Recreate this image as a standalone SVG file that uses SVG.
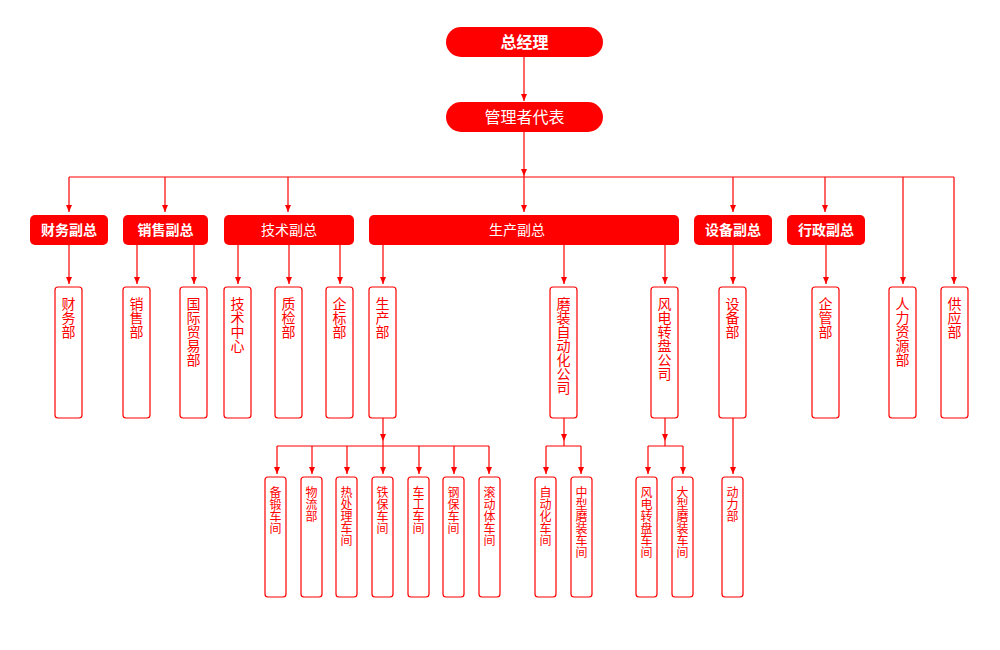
<svg xmlns="http://www.w3.org/2000/svg" width="1000" height="650" viewBox="0 0 1000 650">
<style>
.t{font-family:"Noto Sans CJK SC","Noto Sans",sans-serif;}
.top{fill:#FF0000;}
.vp{fill:#FF0000;}
.box{fill:#fff;stroke:#FF0000;stroke-width:1.2;}
.wt{fill:#fff;text-anchor:middle;}
.vt{fill:#FF0000;writing-mode:vertical-rl;text-orientation:upright;text-anchor:start;}
.l3{font-size:14px;}
.l4{font-size:12px;}
.b{font-weight:bold;}
#connectors path{fill:none;stroke:#FF0000;stroke-width:1.2;}
</style>
<defs>
<marker id="ar" markerUnits="userSpaceOnUse" markerWidth="8" markerHeight="6" refX="7" refY="3" orient="auto">
<path d="M0,0 L7,3 L0,6 Z" fill="#FF0000"/>
</marker>
</defs>
<rect width="1000" height="650" fill="#fff"/>
<g id="connectors">
<path d="M524,57 V101" marker-end="url(#ar)"/>
<path d="M524,132 V176" marker-end="url(#ar)"/>
<path d="M524,176 V212" marker-end="url(#ar)"/>
<path d="M69,177 H954"/>
<path d="M69,177 V212" marker-end="url(#ar)"/>
<path d="M165,177 V212" marker-end="url(#ar)"/>
<path d="M288,177 V212" marker-end="url(#ar)"/>
<path d="M733,177 V212" marker-end="url(#ar)"/>
<path d="M825,177 V212" marker-end="url(#ar)"/>
<path d="M903,177 V284" marker-end="url(#ar)"/>
<path d="M954,177 V284" marker-end="url(#ar)"/>
<path d="M69,245 V284" marker-end="url(#ar)"/>
<path d="M137,245 V284" marker-end="url(#ar)"/>
<path d="M194,245 V284" marker-end="url(#ar)"/>
<path d="M238,245 V284" marker-end="url(#ar)"/>
<path d="M289,245 V284" marker-end="url(#ar)"/>
<path d="M340,245 V284" marker-end="url(#ar)"/>
<path d="M383,245 V284" marker-end="url(#ar)"/>
<path d="M564,245 V284" marker-end="url(#ar)"/>
<path d="M665,245 V284" marker-end="url(#ar)"/>
<path d="M733,245 V284" marker-end="url(#ar)"/>
<path d="M826,245 V284" marker-end="url(#ar)"/>
<path d="M383,418 V441" marker-end="url(#ar)"/>
<path d="M277,446 H489"/>
<path d="M383,441 V446"/>
<path d="M277,446 V474" marker-end="url(#ar)"/>
<path d="M312,446 V474" marker-end="url(#ar)"/>
<path d="M347,446 V474" marker-end="url(#ar)"/>
<path d="M383,446 V474" marker-end="url(#ar)"/>
<path d="M419,446 V474" marker-end="url(#ar)"/>
<path d="M454,446 V474" marker-end="url(#ar)"/>
<path d="M489,446 V474" marker-end="url(#ar)"/>
<path d="M564,418 V441" marker-end="url(#ar)"/>
<path d="M564,441 V446"/>
<path d="M546,446 H581"/>
<path d="M546,446 V474" marker-end="url(#ar)"/>
<path d="M581,446 V474" marker-end="url(#ar)"/>
<path d="M665,418 V441" marker-end="url(#ar)"/>
<path d="M665,441 V446"/>
<path d="M648,446 H683"/>
<path d="M648,446 V474" marker-end="url(#ar)"/>
<path d="M683,446 V474" marker-end="url(#ar)"/>
<path d="M733,418 V474" marker-end="url(#ar)"/>
</g>
<g id="n-gm"><rect class="top" x="446" y="27" width="157" height="30" rx="15"/><text class="t wt b" x="524.5" y="48" font-size="16">总经理</text></g>
<g id="n-mr"><rect class="top" x="446" y="102" width="157" height="30" rx="15"/><text class="t wt" x="524.5" y="123" font-size="16">管理者代表</text></g>
<g id="n-cw"><rect class="vp" x="30" y="215" width="78" height="30" rx="5"/><text class="t wt b" x="69" y="235" font-size="14">财务副总</text></g>
<g id="n-xs"><rect class="vp" x="123" y="215" width="85" height="30" rx="5"/><text class="t wt b" x="165.5" y="235" font-size="14">销售副总</text></g>
<g id="n-js"><rect class="vp" x="224" y="215" width="130" height="30" rx="5"/><text class="t wt" x="289" y="235" font-size="14">技术副总</text></g>
<g id="n-sc"><rect class="vp" x="369" y="215" width="310" height="30" rx="5"/><text class="t wt" x="517" y="235" font-size="14">生产副总</text></g>
<g id="n-sb"><rect class="vp" x="694" y="215" width="78" height="30" rx="5"/><text class="t wt b" x="733" y="235" font-size="14">设备副总</text></g>
<g id="n-xz"><rect class="vp" x="787" y="215" width="78" height="30" rx="5"/><text class="t wt b" x="826" y="235" font-size="14">行政副总</text></g>

<g id="n-cwb"><rect class="box" x="55" y="287" width="27" height="131" rx="3"/><text class="t vt l3" x="68.5" y="297">财务部</text></g>
<g id="n-xsb"><rect class="box" x="123" y="287" width="27" height="131" rx="3"/><text class="t vt l3" x="136.5" y="297">销售部</text></g>
<g id="n-gj"><rect class="box" x="180" y="287" width="27" height="131" rx="3"/><text class="t vt l3" x="193.5" y="297">国际贸易部</text></g>
<g id="n-jszx"><rect class="box" x="224" y="287" width="27" height="131" rx="3"/><text class="t vt l3" x="237.5" y="297">技术中心</text></g>
<g id="n-zj"><rect class="box" x="275" y="287" width="27" height="131" rx="3"/><text class="t vt l3" x="288.5" y="297">质检部</text></g>
<g id="n-qb"><rect class="box" x="326" y="287" width="27" height="131" rx="3"/><text class="t vt l3" x="339.5" y="297">企标部</text></g>
<g id="n-scb"><rect class="box" x="369" y="287" width="27" height="131" rx="3"/><text class="t vt l3" x="382.5" y="297">生产部</text></g>
<g id="n-mz"><rect class="box" x="550" y="287" width="27" height="131" rx="3"/><text class="t vt l3" x="563.5" y="297">磨装自动化公司</text></g>
<g id="n-fd"><rect class="box" x="651" y="287" width="27" height="131" rx="3"/><text class="t vt l3" x="664.5" y="297">风电转盘公司</text></g>
<g id="n-sbb"><rect class="box" x="719" y="287" width="27" height="131" rx="3"/><text class="t vt l3" x="732.5" y="297">设备部</text></g>
<g id="n-qg"><rect class="box" x="812" y="287" width="27" height="131" rx="3"/><text class="t vt l3" x="825.5" y="297">企管部</text></g>
<g id="n-rl"><rect class="box" x="889" y="287" width="27" height="131" rx="3"/><text class="t vt l3" x="902.5" y="297">人力资源部</text></g>
<g id="n-gy"><rect class="box" x="941" y="287" width="27" height="131" rx="3"/><text class="t vt l3" x="954.5" y="297">供应部</text></g>

<g id="n-bd"><rect class="box" x="265" y="477" width="21" height="120" rx="3"/><text class="t vt l4" x="275.5" y="486">备锻车间</text></g>
<g id="n-wl"><rect class="box" x="301" y="477" width="21" height="120" rx="3"/><text class="t vt l4" x="311.5" y="486">物流部</text></g>
<g id="n-rcl"><rect class="box" x="336" y="477" width="21" height="120" rx="3"/><text class="t vt l4" x="346.5" y="486">热处理车间</text></g>
<g id="n-tb"><rect class="box" x="372" y="477" width="21" height="120" rx="3"/><text class="t vt l4" x="382.5" y="486">铁保车间</text></g>
<g id="n-cg"><rect class="box" x="408" y="477" width="21" height="120" rx="3"/><text class="t vt l4" x="418.5" y="486">车工车间</text></g>
<g id="n-gb"><rect class="box" x="443" y="477" width="21" height="120" rx="3"/><text class="t vt l4" x="453.5" y="486">钢保车间</text></g>
<g id="n-gdt"><rect class="box" x="479" y="477" width="21" height="120" rx="3"/><text class="t vt l4" x="489.5" y="486">滚动体车间</text></g>
<g id="n-zdh"><rect class="box" x="535" y="477" width="21" height="120" rx="3"/><text class="t vt l4" x="545.5" y="486">自动化车间</text></g>
<g id="n-zx"><rect class="box" x="571" y="477" width="21" height="120" rx="3"/><text class="t vt l4" x="581.5" y="486">中型磨装车间</text></g>
<g id="n-fdcj"><rect class="box" x="636" y="477" width="21" height="120" rx="3"/><text class="t vt l4" x="646.5" y="486">风电转盘车间</text></g>
<g id="n-dx"><rect class="box" x="672" y="477" width="21" height="120" rx="3"/><text class="t vt l4" x="682.5" y="486">大型磨装车间</text></g>
<g id="n-dl"><rect class="box" x="722" y="477" width="21" height="120" rx="3"/><text class="t vt l4" x="732.5" y="486">动力部</text></g>
</svg>
